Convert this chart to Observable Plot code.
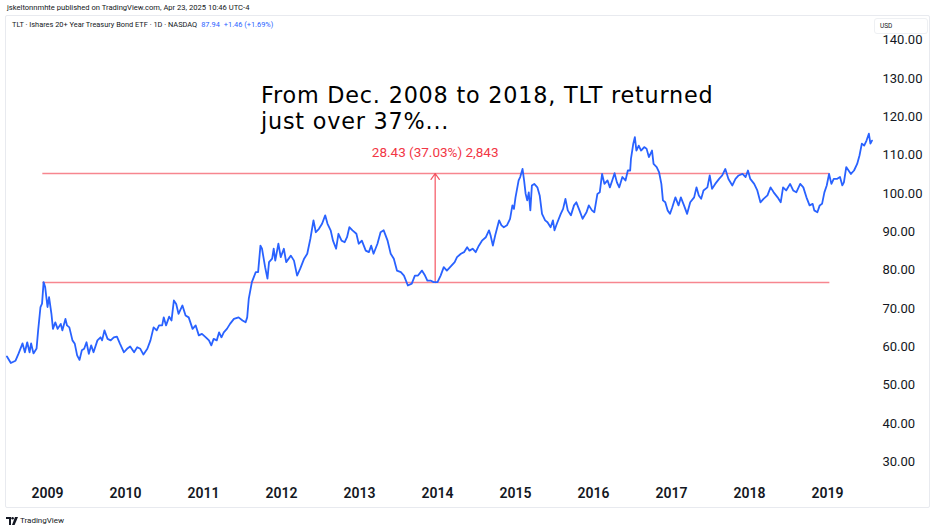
<!DOCTYPE html>
<html><head><meta charset="utf-8">
<script src="https://cdn.jsdelivr.net/npm/d3@7"></script>
<script src="https://cdn.jsdelivr.net/npm/@observablehq/plot@0.6"></script>
<style>
body{margin:0;background:#fff;font-family:Roboto,sans-serif;color:#131722}
#page{position:relative;width:936px;height:532px;overflow:hidden;background:#fff}
#pub{position:absolute;left:7px;top:3px;font-size:7.6px;white-space:nowrap;color:#131722}
#frame{position:absolute;left:5px;top:15px;width:925px;height:493px;box-sizing:border-box;border:1px solid #e8eaef;border-radius:2px}
#chart{position:absolute;left:5px;top:15px}
#legend{position:absolute;left:12px;top:20px;font-size:7.4px;white-space:nowrap;color:#131722}
#legend .q{color:#2962FF;margin-left:4px}
#usd{position:absolute;left:874px;top:18px;width:54px;height:16px;box-sizing:border-box;background:#fff;border:1px solid #eef0f3;border-radius:3px;font-size:6.5px;line-height:14px;padding-left:5px;color:#131722}
.note{position:absolute;left:261px;font-family:"DejaVu Sans";font-size:22.3px;letter-spacing:0.8px;line-height:26px;height:26px;color:#000;white-space:nowrap}
#logo{position:absolute;left:6px;top:516px;font-size:8px;white-space:nowrap;display:flex;align-items:center;gap:2px;color:#131722}
</style></head>
<body><div id="page">
<div id="pub">jskeltonnmhte published on TradingView.com, Apr 23, 2025 10:46 UTC-4</div>
<div id="frame"></div>
<div id="chart"></div>
<div id="legend">TLT · Ishares 20+ Year Treasury Bond ETF · 1D · NASDAQ<span class="q">87.94</span><span class="q">+1.46 (+1.69%)</span></div>
<div id="usd">USD</div>
<div class="note" style="top:82px">From Dec. 2008 to 2018, TLT returned</div>
<div class="note" style="top:108px">just over 37%...</div>
<div id="logo"><svg width="12" height="8" viewBox="0 0 12 8"><path d="M0 0H5V8H3V2H0Z" fill="#131722"/><circle cx="6.6" cy="1.3" r="1.3" fill="#131722"/><path d="M9 0H12L8.6 8H6Z" fill="#131722"/></svg><span>TradingView</span></div>
</div>
<script>
// decimal-year dates and closing prices (USD)
const years = [
2008.48,2008.53,2008.59,2008.63,2008.68,2008.71,2008.74,2008.77,2008.79,2008.82,2008.86,2008.88,2008.91,2008.93,2008.95,2008.97,
2009.00,2009.02,2009.05,2009.07,2009.10,2009.13,2009.17,2009.19,2009.23,2009.25,2009.28,2009.32,2009.35,2009.38,2009.41,2009.44,
2009.47,2009.50,2009.53,2009.56,2009.59,2009.64,2009.68,2009.70,2009.73,2009.77,2009.81,2009.85,2009.89,2009.93,2009.98,
2010.02,2010.06,2010.11,2010.15,2010.19,2010.23,2010.28,2010.32,2010.36,2010.40,2010.43,2010.47,2010.49,2010.52,2010.56,2010.59,
2010.62,2010.65,2010.68,2010.73,2010.77,2010.81,2010.86,2010.90,2010.94,2010.98,
2011.03,2011.07,2011.10,2011.13,2011.17,2011.20,2011.23,2011.26,2011.30,2011.34,2011.39,2011.45,2011.50,2011.54,2011.56,
2011.58,2011.62,2011.67,2011.70,2011.73,2011.75,2011.79,2011.82,2011.84,2011.88,2011.90,2011.92,2011.96,2011.99,
2012.03,2012.06,2012.12,2012.16,2012.20,2012.24,2012.29,2012.33,2012.37,2012.41,2012.44,2012.48,2012.52,2012.56,2012.59,2012.63,
2012.66,2012.70,2012.73,2012.77,2012.81,2012.84,2012.87,2012.91,2012.96,2012.99,
2013.03,2013.08,2013.12,2013.15,2013.18,2013.23,2013.27,2013.31,2013.36,2013.40,2013.44,2013.48,2013.53,2013.57,2013.62,2013.67,
2013.71,2013.75,2013.80,2013.84,2013.87,2013.91,2013.95,
2014.00,2014.04,2014.08,2014.12,2014.17,2014.22,2014.25,2014.30,2014.34,2014.38,2014.41,2014.45,2014.49,2014.53,2014.57,2014.62,
2014.66,2014.68,2014.71,2014.74,2014.79,2014.82,2014.85,2014.89,2014.93,2014.96,2014.98,
2015.00,2015.02,2015.04,2015.06,2015.09,2015.11,2015.13,2015.15,2015.17,2015.19,2015.21,2015.24,2015.28,2015.31,2015.34,2015.38,
2015.41,2015.45,2015.48,2015.50,2015.53,2015.58,2015.61,2015.64,2015.67,2015.71,2015.75,2015.78,2015.82,2015.86,2015.91,2015.94,2015.98,
2016.01,2016.05,2016.08,2016.11,2016.14,2016.18,2016.21,2016.24,2016.27,2016.30,2016.33,2016.37,2016.41,2016.44,2016.47,2016.48,
2016.51,2016.53,2016.55,2016.58,2016.61,2016.65,2016.68,2016.71,2016.75,2016.77,2016.81,2016.84,2016.87,2016.89,2016.92,2016.95,2016.98,
2017.01,2017.05,2017.09,2017.12,2017.16,2017.20,2017.24,2017.29,2017.32,2017.35,2017.38,2017.41,2017.46,2017.49,2017.52,2017.56,
2017.61,2017.65,2017.69,2017.73,2017.78,2017.82,2017.86,2017.91,2017.95,2017.98,
2018.01,2018.06,2018.10,2018.14,2018.18,2018.23,2018.27,2018.31,2018.36,2018.40,2018.43,2018.47,2018.52,2018.56,2018.60,2018.65,
2018.69,2018.73,2018.77,2018.81,2018.83,2018.87,2018.90,2018.93,2018.96,2018.99,
2019.02,2019.05,2019.08,2019.12,2019.16,2019.19,2019.21,2019.24,2019.27,2019.30,2019.34,2019.38,2019.41,2019.44,2019.47,2019.50,
2019.53,2019.55,2019.57
];
const closes = [
57.5,55.8,56.4,58.3,60.9,58.6,61.2,58.6,60.9,58.3,59.6,64.3,70.4,71.3,76.9,75.6,
70.4,73.0,68.7,64.7,66.4,64.7,66.0,64.3,67.3,65.6,65.1,61.7,60.8,57.8,56.6,59.1,
59.5,61.2,58.2,60.4,58.6,61.7,62.5,61.7,64.3,62.1,61.7,62.5,62.7,60.8,58.6,
59.5,60.1,58.6,59.9,59.5,58.0,59.5,61.7,65.1,64.3,65.6,65.6,67.7,65.6,67.9,66.9,
72.1,71.2,68.6,70.8,68.2,67.7,64.7,65.6,63.0,63.4,
62.5,61.7,60.4,62.1,61.7,63.8,62.5,63.8,64.7,66.0,67.3,67.7,66.9,66.4,67.7,
72.5,76.9,79.5,79.5,86.4,85.6,80.8,77.8,82.1,83.0,85.6,82.5,86.9,83.4,
85.6,82.1,83.8,82.5,78.6,80.4,83.0,84.3,88.2,93.0,89.9,90.8,92.1,94.3,92.1,90.4,
87.7,85.6,89.5,87.7,87.3,88.6,91.2,90.4,89.5,86.9,
87.7,85.1,84.7,86.4,84.3,86.9,89.9,90.4,87.7,84.3,83.0,79.9,79.5,78.6,76.0,76.5,
78.6,78.6,79.9,78.6,77.3,77.3,76.9,
76.9,78.6,80.8,79.9,81.0,82.1,83.4,84.3,84.7,86.0,85.1,85.6,84.7,86.4,87.7,88.6,
90.4,89.1,86.4,89.1,93.0,91.7,91.2,91.7,93.4,96.9,96.0,
99.0,101.2,103.4,104.3,106.4,103.4,99.9,98.2,100.3,95.6,102.1,102.5,101.6,99.5,94.7,93.0,
92.5,91.2,93.0,90.4,92.1,94.7,96.0,98.6,95.6,94.3,96.9,97.7,95.6,93.4,95.1,96.9,95.6,
95.1,99.9,100.3,105.1,102.5,103.4,101.6,103.4,105.3,102.9,101.6,104.3,103.4,106.0,106.0,109.0,
113.0,114.7,111.2,112.5,111.2,112.1,111.7,109.5,111.2,107.7,106.9,105.6,102.5,98.2,97.7,95.6,94.7,
96.4,99.0,96.9,99.0,96.9,94.7,97.7,99.0,101.6,99.5,98.6,100.8,101.6,104.7,101.2,102.5,
103.8,104.7,106.4,103.8,102.1,103.8,104.7,105.1,104.3,106.0,
103.8,102.5,100.8,97.7,98.6,99.5,101.6,100.3,99.0,97.7,101.6,100.8,102.5,100.8,100.3,102.5,
101.6,99.0,96.9,97.3,95.6,95.1,96.9,97.3,100.3,102.1,
105.1,102.5,103.8,103.8,104.3,102.1,102.9,106.9,106.0,105.1,106.0,107.7,109.9,113.0,112.5,113.8,
115.6,113.0,113.8
];
const yearTicks = [2009,2010,2011,2012,2013,2014,2015,2016,2017,2018,2019];
const priceTicks = [30,40,50,60,70,80,90,100,110,120,130,140];
// price-range measurement: low and high levels, start/end of the drawn lines, date of the arrow
const levels = [76.78, 105.21];
const levelSpan = [2008.94, 2019.03];
const measureAt = 2013.97;

const series = years.map((t, i) => ({t, v: closes[i]}));
const diff = levels[1] - levels[0];
const label = `${diff.toFixed(2)} (${(diff / levels[0] * 100).toFixed(2)}%) ${d3.format(",")(Math.round(diff * 100))}`;
const red = "#F23645";

const chart = Plot.plot({
  width: 925,
  height: 493,
  marginTop: 21,
  marginBottom: 28,
  marginLeft: 0,
  marginRight: 54,
  x: {type: "linear", domain: [2008.4615, 2019.628]},
  y: {type: "linear", domain: [25.16, 140.94]},
  style: {fontFamily: "Roboto, sans-serif", color: "#131722", background: "transparent", overflow: "visible"},
  marks: [
    Plot.axisY(priceTicks, {anchor: "right", tickSize: 0, tickPadding: 6, tickFormat: d => d.toFixed(2), fontSize: 13, fill: "#131722", label: null}),
    Plot.axisX(yearTicks, {anchor: "bottom", tickSize: 0, tickPadding: 8, tickFormat: d => String(d), fontSize: 14, fontWeight: 600, fill: "#131722", label: null}),
    Plot.ruleY(levels, {y: d => d, x1: levelSpan[0], x2: levelSpan[1], stroke: red, strokeOpacity: 0.6, strokeWidth: 1.5}),
    Plot.arrow([{x: measureAt, y1: levels[0], y2: levels[1]}], {x1: "x", x2: "x", y1: "y1", y2: "y2", stroke: red, strokeOpacity: 0.85, strokeWidth: 1.2, headLength: 9, headAngle: 70}),
    Plot.line(series, {x: "t", y: "v", stroke: "#2962FF", strokeWidth: 1.8, strokeLinejoin: "round"}),
    Plot.text([label], {x: measureAt, y: levels[1], dy: -21, text: d => d, fill: red, fontSize: 13.5})
  ]
});
document.getElementById("chart").appendChild(chart);
</script>
</body></html>
